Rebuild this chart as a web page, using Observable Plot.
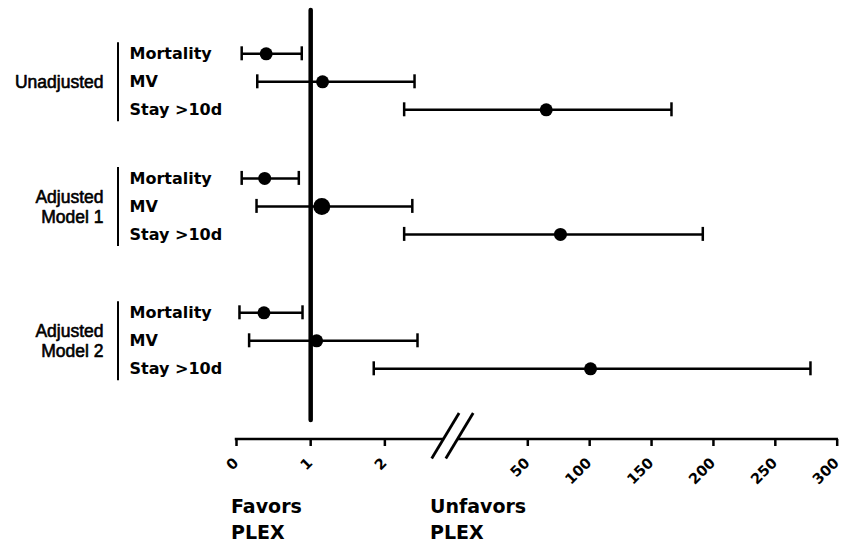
<!DOCTYPE html>
<html><head><meta charset="utf-8">
<script src="https://cdn.jsdelivr.net/npm/d3@7"></script>
<script src="https://cdn.jsdelivr.net/npm/@observablehq/plot@0.6"></script>
<style>body{margin:0;background:#fff}</style>
</head><body><div id="chart"></div>
<script>
// ---- data ----
const groups = ["Unadjusted", "Adjusted\nModel 1", "Adjusted\nModel 2"];
const outcomes = ["Mortality", "MV", "Stay >10d"];
const estimate = [[0.40, 1.16, 64.9], [0.38, 1.15, 76.4], [0.37, 1.08, 100.7]];
const lower    = [[0.07, 0.28, 2.26], [0.07, 0.27, 2.26], [0.04, 0.17, 1.85]];
const upper    = [[0.88, 2.40, 166.1], [0.84, 2.37, 191.4], [0.89, 2.44, 278.4]];
const xTicks = [0, 1, 2, 50, 100, 150, 200, 250, 300];
const sideLabels = ["Favors\nPLEX", "Unfavors\nPLEX"];

// ---- layout ----
const groupStart = [0, 4.45, 9.25];
const breakLo = 2.75, breakHi = 5;

const rows = groups.flatMap((g, gi) => outcomes.map((o, oi) => ({
  group: g, outcome: o, pos: groupStart[gi] + oi,
  est: estimate[gi][oi], lo: lower[gi][oi], hi: upper[gi][oi],
  r: (gi === 1 && oi === 1) ? 8.5 : 6.5
})));
const brackets = groups.map((g, gi) => ({label: g, top: groupStart[gi], bottom: groupStart[gi] + 2, mid: groupStart[gi] + 1}));

const bold = {fontFamily: "DejaVu Sans", fontWeight: "bold"};

const breakMark = (index, scales, values, dims) => {
  const x = scales.x;
  const y0 = dims.height - dims.marginBottom;
  const bx = x(breakLo);
  const s1 = bx + 3.4, s2 = bx + 17.5;
  const g = d3.create("svg:g").attr("stroke", "black").attr("fill", "none");
  g.append("line").attr("x1", x(0) - 1.25).attr("x2", s1).attr("y1", y0).attr("y2", y0).attr("stroke-width", 2.5);
  g.append("line").attr("x1", s2).attr("x2", x(300) + 1.25).attr("y1", y0).attr("y2", y0).attr("stroke-width", 2.5);
  for (const cx of [s1, s2]) {
    g.append("line").attr("x1", cx - 11.7).attr("y1", y0 + 19.5).attr("x2", cx + 15.7).attr("y2", y0 - 26).attr("stroke-width", 2.8);
  }
  return g.node();
};

const chart = Plot.plot({
  width: 841, height: 543,
  marginLeft: 236, marginRight: 4, marginTop: 0, marginBottom: 104,
  x: {type: "linear", domain: [0, breakLo, breakHi, 300], range: [236, 440, 471.6, 836.7]},
  y: {type: "linear", domain: [0, 11.25], range: [53.3, 368.3], axis: null},
  r: {type: "identity"},
  style: {background: "white", color: "black", fontFamily: "DejaVu Sans"},
  marks: [
    Plot.ruleX([1], {stroke: "black", strokeWidth: 4.5, insetTop: 10, insetBottom: 19, strokeLinecap: "round"}),
    Plot.ruleY(rows, {y: "pos", x1: "lo", x2: "hi", stroke: "black", strokeWidth: 2.5}),
    Plot.ruleX(rows, {x: "lo", y1: "pos", y2: "pos", insetTop: -7, insetBottom: -7, stroke: "black", strokeWidth: 2.5}),
    Plot.ruleX(rows, {x: "hi", y1: "pos", y2: "pos", insetTop: -7, insetBottom: -7, stroke: "black", strokeWidth: 2.5}),
    Plot.dot(rows, {x: "est", y: "pos", r: "r", fill: "black", stroke: "none"}),
    Plot.ruleX(brackets, {x: () => 0, dx: -118.5, y1: "top", y2: "bottom", insetTop: -11, insetBottom: -12, stroke: "black", strokeWidth: 2}),
    Plot.text(rows, {y: "pos", text: "outcome", frameAnchor: "left", dx: -107, textAnchor: "start", fontSize: 16, ...bold, fill: "black"}),
    Plot.text(brackets, {y: "mid", text: "label", frameAnchor: "left", dx: -133, textAnchor: "end", fontSize: 17.5, lineHeight: 1.14, fontFamily: "Liberation Sans", fontWeight: "normal", fill: "black", stroke: "black", strokeWidth: 0.6}),
    Plot.text([sideLabels[0]], {x: () => 0, frameAnchor: "bottom", text: d => d, dx: -5.5, dy: 99.5, textAnchor: "start", lineAnchor: "bottom", lineHeight: 1.38, fontSize: 19, ...bold, fill: "black"}),
    Plot.text([sideLabels[1]], {x: () => breakLo, frameAnchor: "bottom", text: d => d, dx: -10.5, dy: 99.5, textAnchor: "start", lineAnchor: "bottom", lineHeight: 1.38, fontSize: 19, ...bold, fill: "black"}),
    Plot.axisX({ticks: xTicks, tickFormat: () => "", tickSize: 7, strokeWidth: 2.5, label: null, stroke: "black"}),
    Plot.text(xTicks, {x: d => d, text: d => String(d), frameAnchor: "bottom", rotate: -45, textAnchor: "end", lineAnchor: "middle", dx: -0.5, dy: 21, fontSize: 14.5, ...bold, fill: "black"}),
    breakMark
  ]
});
document.getElementById("chart").append(chart);
</script>
</body></html>
